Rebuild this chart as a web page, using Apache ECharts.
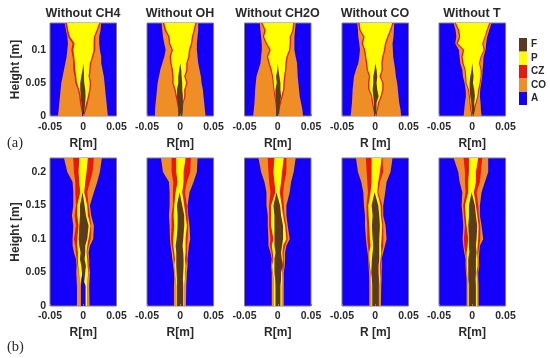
<!DOCTYPE html>
<html><head><meta charset="utf-8">
<script src="https://cdn.jsdelivr.net/npm/echarts@6/dist/echarts.min.js"></script>
<style>html,body{margin:0;padding:0;background:#fff}#c{width:550px;height:358px}</style>
</head><body><div id="c"></div>
<script>
// All boundaries are [left, right] radii in mm, one row per height (mm).
const heightsTop = [0,10,20,30,40,50,60,70,80,90,100,110,120,130,141];
const heightsBottom = [0,30,40,50,60,70,80,90,100,120,135,150,170,185,200,221];

const titles = ['Without CH4','Without OH','Without CH2O','Without CO','Without T'];
const xNames = ['R[m]','R[m]','R[m]','R [m]','R[m]'];
const legendLabels = ['A','CO','CZ','P','F'];

// Row (a)
const T1_CO=[[-38,37],[-37,36],[-36,35],[-35,34],[-34,33],[-33,32],[-31,31],[-29,29],[-27,27],[-25,27],[-24,25],[-23,24],[-24,24],[-26,26],[-28,27]];
const T1_CZ=[[-1,1],[-3,4.5],[-5,7],[-6,9],[-8,11],[-12,12],[-13,10],[-15,11],[-15,12],[-16,15],[-18,18],[-16,18],[-23,18],[-25,22],[-27,26]];
const T1_P=[[0,0],[-1,2],[-3,4.5],[-4,7],[-6,9],[-9.5,10],[-10.5,8],[-12,9],[-12.5,10],[-13.5,13],[-15,15.5],[-13,15.5],[-20,16],[-22.5,20],[-24.5,24]];
const T1_F=[[-1.5,1],[-2,2],[-3,3],[-4,3.5],[-4.5,3],[-4.5,1.5],[-3,1],[-1,1],[0,0],[0,0],[0,0],[0,0],[0,0],[0,0],[0,0]];
const T1_A=[[-1.5,1.5],[0,0],[0,0],[0,0],[0,0],[0,0],[0,0],[0,0],[0,0],[0,0],[0,0],[0,0],[0,0],[0,0],[0,0]];

const T2_CO=[[-38,38],[-38,37],[-37,36],[-36,35],[-35,34],[-34,32],[-32,31],[-30,29],[-27,27],[-24,26],[-22,25],[-24,25],[-26,26],[-27,27],[-28,27]];
const T2_CZ=[[-1,1],[-3,3],[-5,5],[-7,8],[-9,8],[-12,11],[-12,8],[-13,11],[-15,11],[-16,14],[-13,15],[-17,18],[-18,19.5],[-23.5,22],[-26,24.5]];
const T2_P=[[0,0],[-1,1.5],[-3,3.5],[-5,6],[-7,6],[-10,9],[-10,6],[-11,9],[-13,9],[-14,12],[-11,13],[-15,16],[-16,17.5],[-21,20],[-24,22.5]];
const T2_F=[[-3,3],[-3,4],[-4,4],[-5,4],[-5,3],[-3,3],[-3,2],[-1.5,1.5],[0,0],[0,0],[0,0],[0,0],[0,0],[0,0],[0,0]];

const T3_CO=[[-37,38],[-36,37],[-35,35],[-34.5,33],[-34,32],[-33,31],[-32,30],[-29,29.5],[-26,29],[-25,27],[-24,25],[-24,25],[-25,25],[-26,26],[-27,27]];
const T3_CZ=[[-1,1],[-2.5,2.5],[-3.5,5],[-5,7.5],[-6.5,10],[-7.5,10.5],[-8.5,11.5],[-11,13],[-14,13.5],[-16.5,15],[-12.5,19],[-18,20],[-22.5,20],[-20,24],[-25,25]];
const T3_P=[[0,0],[-1,1],[-2,3],[-3.5,5.5],[-5,8],[-6,8.5],[-7,9.5],[-9,11],[-12,11.5],[-14.5,13],[-10.5,17],[-16,18],[-20.5,18],[-18,22],[-23,23]];
const T3_F=[[-2.5,2],[-2.5,2.5],[-2.5,3.5],[-3.5,5],[-3.5,4],[-1.5,4],[-2.5,2.5],[-0.5,1],[0,0],[0,0],[0,0],[0,0],[0,0],[0,0],[0,0]];

const T4_CO=[[-37,39],[-36,38],[-35,36],[-34.5,35],[-34,34],[-33,33],[-32,31],[-29,30],[-25.5,28.5],[-24,27],[-23,26.5],[-24,26],[-25.5,27.5],[-26,28],[-27,28.5]];
const T4_CZ=[[-1,1],[-3,4],[-5,6],[-6,10],[-10.5,12.5],[-11,12.5],[-9.5,8.5],[-13,11.5],[-14,11],[-15.5,12.5],[-17,15],[-20.5,16.5],[-18,20],[-24,24],[-25.5,27.5]];
const T4_P=[[0,0],[-1.5,2.5],[-3,4],[-4.5,8],[-8.5,10.5],[-9,10.5],[-7.5,6.5],[-11,9.5],[-12,9],[-13.5,10.5],[-15,13],[-18.5,14.5],[-16,18],[-22,22],[-23.5,25.5]];
const T4_F=[[-1.5,2],[-2,2],[-2,2],[-3,5],[-4,3],[-3,2],[-3,3],[-1,2],[0,0],[0,0],[0,0],[0,0],[0,0],[0,0],[0,0]];

const T5_CO=[[-13,14],[-12,13],[-11,12.5],[-9.5,11.5],[-10,12],[-11.5,13.5],[-14,15],[-15,15.5],[-18,16.5],[-19,17],[-20,20],[-25.5,21],[-24,22.5],[-25,25.5],[-28,29]];
const T5_CZ=[[-1,1],[-3,4],[-4,6.5],[-5,9],[-6.5,10.5],[-10,12.5],[-10.5,14],[-11.5,14],[-15,11.5],[-16.5,14],[-14,19],[-24,16.5],[-20,20],[-21.5,23],[-26.5,27.5]];
const T5_P=[[0,0],[-1.5,2.5],[-2.5,5],[-3.5,7.5],[-5,9],[-8.5,11],[-9,12.5],[-10,12.5],[-13,10],[-14.5,12.5],[-12,17],[-21.5,15],[-18,18.5],[-19.5,21.5],[-24.5,25.5]];
const T5_F=[[-1,2],[-1,4],[-1.5,3],[-3,4],[-4,3],[-4,1],[-3,2],[-1,1],[0,0],[0,0],[0,0],[0,0],[0,0],[0,0],[0,0]];

// Row (b)
const B1_CO=[[-9.5,9.5],[-9.5,9],[-10,9.5],[-10.5,10],[-10,9],[-11,9],[-14,8],[-16,10],[-16,15],[-15,16],[-17,12],[-15,10],[-15,16],[-16,21],[-24,25],[-29,28]];
const B1_CZ=[[-3.5,6.5],[-3.5,6.5],[-5,7],[-7,8],[-8.5,8],[-10,8],[-11,6],[-12,8],[-14,11],[-11,12],[-13,10],[-11,8],[-12,6],[-12,10],[-14,14],[-15,16]];
const B1_P=[[-3.5,6],[-3.5,6],[-5,6.5],[-6.5,7.5],[-7.5,6.5],[-8,6],[-8,5],[-9,6],[-9,8],[-7,11],[-9,7],[-9,6],[-4.5,1.5],[-6,3],[-7,5],[-6,7]];
const B1_F=[[0,0],[0,0],[-1,2],[-2,3],[-3,4],[-5,2],[-4,3],[-6,3],[-7,6],[-6,8],[-5,4],[-5,2],[-1,-1],[0,0],[0,0],[0,0]];
const B1_A=[[-3.5,3.5],[-3.5,3.5],[-3,0],[-1,-1],[0,0],[0,0],[0,0],[0,0],[0,0],[0,0],[0,0],[0,0],[0,0],[0,0],[0,0],[0,0]];

const B2_CO=[[-9.5,8.5],[-9.5,9],[-9,9.5],[-9.5,10],[-10.5,11],[-12,11],[-13,12],[-14.5,13],[-15.5,15],[-16,14],[-17,12],[-16,11],[-16,14],[-17,20],[-26,25],[-29,26]];
const B2_CZ=[[-6,6],[-6,6],[-7,7],[-8.5,8],[-9.5,9],[-10,10],[-11,10],[-13,10],[-14,11],[-13,12],[-13,11],[-11,10],[-11,7],[-10.5,10],[-13,15],[-13,16]];
const B2_P=[[-6,6],[-6,6],[-7,7],[-8,7],[-9,8],[-8,7],[-9,8],[-10.5,8],[-10.5,8],[-9,10],[-10,8],[-9,6],[-7,3],[-4,5],[-6,5],[-6,8]];
const B2_F=[[-5,4.5],[-5,4.5],[-5,4],[-5.5,4.5],[-6,5],[-6,5],[-6,4.5],[-7,3.5],[-5.5,4.5],[-4,6],[-4,6],[-5,3],[-1,-1],[0,0],[0,0],[0,0]];

const B3_CO=[[-9,9],[-9,9],[-9,9],[-9,9],[-10,10.5],[-9,11],[-11,11],[-14,13],[-14,18],[-15,15],[-15,13],[-17,13],[-17,18],[-20,20],[-25,24],[-29,27]];
const B3_CZ=[[-6,6],[-6,6],[-6,7],[-8,8],[-9,9],[-8,9],[-9.5,9],[-12,11],[-11,15],[-13,13],[-13,10],[-13,9],[-11,8],[-13,10],[-14,13],[-15,13]];
const B3_P=[[-6,6],[-6,6],[-6,7],[-7.5,7],[-8.5,6.5],[-6.5,7.5],[-7.5,7],[-9,8],[-6.5,13],[-10,11],[-10,8],[-10,6],[-3.5,3],[-5,5],[-6.5,6.5],[-5,9]];
const B3_F=[[-3.5,4],[-3.5,4],[-4,5],[-5,5],[-5,7.5],[-5,6],[-3.5,5],[-5,6.5],[-5,8],[-5,8],[-5,5],[-6.5,3.5],[-2,-2],[0,0],[0,0],[0,0]];

const B4_CO=[[-9,8.5],[-9,9],[-9,9.5],[-9.5,9.5],[-10,10],[-10.5,9.5],[-11.5,12],[-13,14.5],[-14,17],[-15.5,15.5],[-15.5,12],[-17,12],[-18,15],[-21,17],[-26,23],[-29,26]];
const B4_CZ=[[-6,6],[-6,6],[-7,7],[-8,8],[-9,8.5],[-10,9],[-10,10],[-11,12],[-12,12],[-12,12],[-13,10.5],[-13,10.5],[-11,4.5],[-12,7],[-13,12],[-14,11]];
const B4_P=[[-6,6],[-6,6],[-7,7],[-7,7],[-8,7],[-9,8],[-9,9],[-7,8.5],[-8,9.5],[-9,10.5],[-10,8.5],[-10.5,8],[-7,3],[-5.5,4.5],[-5.5,7],[-5.5,9.5]];
const B4_F=[[-4.5,5.5],[-4.5,5.5],[-5,5.5],[-6,5],[-5.5,5],[-5,6],[-4,6],[-3,6],[-4,6],[-5,7],[-4,6],[-5.5,4.5],[-1,-1],[0,0],[0,0],[0,0]];

const B5_CO=[[-8.5,9.5],[-8.5,9.5],[-8.5,9],[-9.5,9],[-10,10.5],[-10,10],[-12,10.5],[-13.5,11.5],[-14.5,16.5],[-13.5,14],[-14.5,11.5],[-16,11.5],[-15,14],[-19,19],[-21,24],[-28,24]];
const B5_CZ=[[-6,7],[-6,7],[-7,7],[-8,8],[-9,9.5],[-9,9],[-10.5,9],[-12,10.5],[-12.5,12],[-11,12],[-12.5,10],[-13.5,9],[-10,6.5],[-11,11.5],[-11,13],[-13,15]];
const B5_P=[[-6,7],[-6,7],[-7,7],[-7.5,6.5],[-8.5,8],[-8.5,8],[-8.5,7.5],[-7,8],[-6,9],[-8.5,9.5],[-10,7.5],[-11,5.5],[-6,2.5],[-6,5.5],[-5,5.5],[-5,9]];
const B5_F=[[-5,5.5],[-5,5.5],[-6,5],[-6,5.5],[-6,5.5],[-6,5.5],[-4.5,6.5],[-5,5.5],[-5,6.5],[-6,7.5],[-5,5.5],[-5,4],[-1,-1],[0,0],[0,0],[0,0]];

const COLORS = {F:'#5B3A22',P:'#FFFF00',CZ:'#E8170F',CO:'#EE8E24',A:'#1400FA'};
const INK = '#2a2a2a';
const lefts = [50,147,244.5,342,439];
const rows = [
  {top:23,h:93,max:0.141,heights:heightsTop,label:'(a)',labelY:143,nameGap:22,labelMargin:5,
   panels:[[T1_CO,T1_CZ,T1_P,T1_F,T1_A],[T2_CO,T2_CZ,T2_P,T2_F],[T3_CO,T3_CZ,T3_P,T3_F],[T4_CO,T4_CZ,T4_P,T4_F],[T5_CO,T5_CZ,T5_P,T5_F]]},
  {top:158,h:148,max:0.221,heights:heightsBottom,label:'(b)',labelY:347,nameGap:21,labelMargin:4,
   panels:[[B1_CO,B1_CZ,B1_P,B1_F,B1_A],[B2_CO,B2_CZ,B2_P,B2_F],[B3_CO,B3_CZ,B3_P,B3_F],[B4_CO,B4_CZ,B4_P,B4_F],[B5_CO,B5_CZ,B5_P,B5_F]]}
];
const zoneColors = [COLORS.CO,COLORS.CZ,COLORS.P,COLORS.F,COLORS.A];

function polygon(rowsLR, heights){
  const keep = rowsLR.map((p,i)=>({l:p[0],r:p[1],h:heights[i]}));
  // rows after the zone has closed (both radii equal) above its tip are not part of it
  let last = keep.length-1;
  while(last>0 && keep[last].l===keep[last].r && keep[last-1].l===keep[last-1].r) last--;
  const used = keep.slice(0,last+1);
  const left = used.map(p=>[p.l/1000,p.h/1000]);
  const right = used.map(p=>[p.r/1000,p.h/1000]).reverse();
  return left.concat(right);
}
const grids=[],xAxes=[],yAxes=[],series=[],texts=[];
const tickFont = {fontFamily:'Liberation Sans',fontWeight:'bold',fontSize:10.5,color:INK};
rows.forEach((row,r)=>{
  row.panels.forEach((zones,c)=>{
    const idx = grids.length;
    grids.push({left:lefts[c],top:row.top,width:66.5,height:row.h,show:true,backgroundColor:COLORS.A,borderColor:'#7f7f7f',borderWidth:1,containLabel:false});
    xAxes.push({gridIndex:idx,type:'value',min:-0.05,max:0.05,interval:0.05,z:6,
      name:xNames[c],nameLocation:'middle',nameGap:row.nameGap,
      nameTextStyle:{fontFamily:'Liberation Sans',fontWeight:'bold',fontSize:12,color:INK},
      axisLine:{show:false},axisTick:{show:true,inside:true,length:2,lineStyle:{color:'#7f7f7f'}},splitLine:{show:false},
      axisLabel:Object.assign({margin:row.labelMargin+1},tickFont,{formatter:v=>String(v),hideOverlap:false,showMinLabel:true,showMaxLabel:true})});
    yAxes.push({gridIndex:idx,type:'value',min:0,max:row.max,interval:0.05,z:6,show:c===0,
      name:c===0?'Height [m]':'',nameLocation:'middle',nameGap:27,nameRotate:90,
      nameTextStyle:{fontFamily:'Liberation Sans',fontWeight:'bold',fontSize:12,color:INK},
      axisLine:{show:false},axisTick:{show:false},splitLine:{show:false},
      axisLabel:Object.assign({margin:4},tickFont,{formatter:v=>String(v),showMaxLabel:false})});
    zones.forEach((z,i)=>{
      const pts = polygon(z,row.heights);
      series.push({type:'custom',xAxisIndex:idx,yAxisIndex:idx,coordinateSystem:'cartesian2d',z:2+i,silent:true,animation:false,clip:true,
        data:pts,encode:{x:0,y:1},
        renderItem:(params,api)=>{
          if(params.dataIndex!==0) return null;
          return {type:'polygon',shape:{points:pts.map(p=>api.coord(p))},style:{fill:zoneColors[i],stroke:null,lineWidth:0}};
        }});
    });
    if(r===0) texts.push({type:'text',x:lefts[c]+33,y:14,style:{text:titles[c],align:'center',verticalAlign:'middle',fill:INK,font:'bold 12.5px "Liberation Sans"'}});
  });
  texts.push({type:'text',x:7,y:row.labelY,style:{text:row.label,verticalAlign:'middle',fill:INK,font:'14.5px "Liberation Serif"'}});
});
// Legend colour bar, as its own small bar chart
const legIdx = grids.length;
grids.push({left:519,top:38,width:8,height:67,show:false});
xAxes.push({gridIndex:legIdx,type:'value',min:0,max:1,show:false});
yAxes.push({gridIndex:legIdx,type:'category',data:legendLabels,position:'right',axisLine:{show:false},axisTick:{show:false},
  axisLabel:Object.assign({},tickFont,{margin:4,fontSize:10,interval:0,hideOverlap:false})});
series.push({type:'bar',xAxisIndex:legIdx,yAxisIndex:legIdx,barWidth:'100%',animation:false,silent:true,
  data:legendLabels.map(k=>({value:1,itemStyle:{color:COLORS[k]}}))});

const chart = echarts.init(document.getElementById('c'),null,{renderer:'canvas'});
chart.setOption({animation:false,backgroundColor:'#fff',tooltip:{show:false},grid:grids,xAxis:xAxes,yAxis:yAxes,series:series,graphic:texts});
</script>
</body></html>
